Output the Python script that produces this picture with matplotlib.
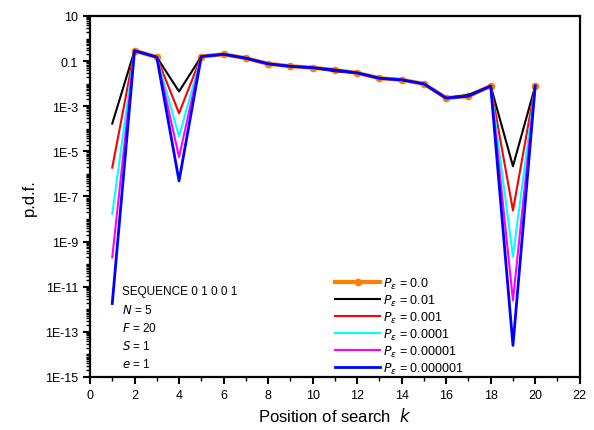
import numpy as np
from matplotlib import pyplot as plt
from matplotlib import ticker

plt.rcParams['font.family'] = ['Liberation Sans', 'DejaVu Sans']

# data
k = np.arange(1, 21)
nan = np.nan
# p.d.f. shared by all curves away from the three dips
pdf_common = [nan, 0.29, 0.15, nan, 0.16, 0.20, 0.135, 0.076, 0.059, 0.051,
              0.040, 0.030, 0.0174, 0.0148, 0.0098, 0.0023, 0.0028, 0.0079, nan, 0.0079]
# values at k = 1, 4, 19 for each error probability
dip_k1 = [1.7e-4, 1.9e-6, 1.7e-8, 2.0e-10, 1.8e-12]
dip_k4 = [4.5e-3, 4.9e-4, 4.6e-5, 5.6e-6, 4.9e-7]
dip_k19 = [2.2e-6, 2.4e-8, 2.2e-10, 2.5e-12, 2.5e-14]
p_labels = ['0.01', '0.001', '0.0001', '0.00001', '0.000001']
colors = ['black', 'red', 'cyan', 'magenta', 'blue']

fig = plt.figure(figsize=(5.94, 4.31), dpi=100)
ax = fig.add_axes([0.1515, 0.123, 0.8245, 0.8376])

ax.plot(k, pdf_common, '-o', color='#FF8000', lw=3, ms=4.5,
        label=r'$P_{\varepsilon}$ = 0.0', zorder=2)
for i, (lab, c) in enumerate(zip(p_labels, colors)):
    y = list(pdf_common)
    y[0] = dip_k1[i]
    y[3] = dip_k4[i]
    y[18] = dip_k19[i]
    if i == 0:
        # the black curve differs slightly from the others at k = 11 and 17
        y[10] = 0.036
        y[16] = 0.0032
    ax.plot(k, y, '-', color=c, lw=2.0 if c == 'blue' else 1.5,
            label=r'$P_{\varepsilon}$ = ' + lab, zorder=3 + i)

ax.set_yscale('log')
ax.set_ylim(1e-15, 10)
ax.set_xlim(0, 22)
ax.xaxis.set_major_locator(ticker.MultipleLocator(2))
ax.xaxis.set_minor_locator(ticker.MultipleLocator(1))
ax.yaxis.set_major_locator(ticker.FixedLocator([10.0 ** e for e in range(1, -16, -2)]))
ax.yaxis.set_minor_locator(ticker.LogLocator(base=10, subs=np.arange(1, 10), numticks=100))


def ylabel_fmt(v, pos):
    e = int(round(np.log10(v)))
    if e == 1:
        return '10'
    if e == -1:
        return '0.1'
    return '1E%d' % e


ax.yaxis.set_major_formatter(ticker.FuncFormatter(ylabel_fmt))
ax.yaxis.set_minor_formatter(ticker.NullFormatter())
ax.tick_params(which='major', direction='out', length=5, width=1.5, labelsize=9)
ax.tick_params(which='minor', direction='out', length=3, width=1.0)
for s in ax.spines.values():
    s.set_linewidth(1.6)

ax.set_xlabel(r'Position of search  $k$', fontsize=12, labelpad=4)
ax.set_ylabel('p.d.f.', fontsize=12, labelpad=6)

info = ['SEQUENCE 0 1 0 0 1', r'$N$ = 5', r'$F$ = 20', r'$S$ = 1', r'$e$ = 1']
for j, t in enumerate(info):
    ax.text(1.45, 10.0 ** (-11.2 - 0.8 * j), t, fontsize=8.5, va='center', ha='left')

ax.legend(loc='lower left', bbox_to_anchor=(0.485, -0.017), frameon=False,
          fontsize=9, handlelength=3.6, handletextpad=0.2, labelspacing=0.15,
          borderaxespad=0.2)

plt.savefig('out.png', dpi=100)
